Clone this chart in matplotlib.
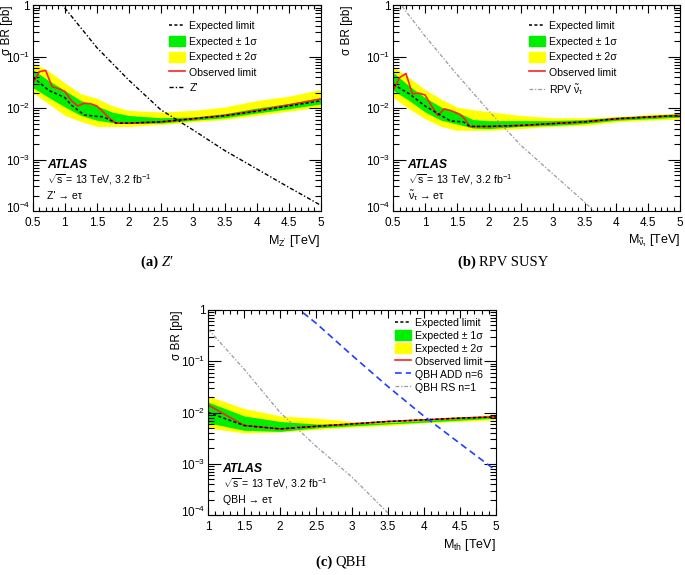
import matplotlib
matplotlib.use("Agg")
import matplotlib.pyplot as plt
import matplotlib.transforms as mtransforms
import numpy as np
from matplotlib.lines import Line2D
from matplotlib.patches import Patch
from matplotlib.ticker import FixedLocator, MultipleLocator, LogLocator, NullFormatter

plt.rcParams['font.family'] = ['Liberation Sans', 'DejaVu Sans']
plt.rcParams['mathtext.fontset'] = 'custom'
plt.rcParams['mathtext.rm'] = 'Liberation Sans'
plt.rcParams['mathtext.it'] = 'Liberation Sans:italic'
plt.rcParams['mathtext.bf'] = 'Liberation Sans:bold'
plt.rcParams['mathtext.default'] = 'regular'

# ---- (a) Z' ----
za_band_m = [0.5, 0.75, 1.0, 1.25, 1.5, 1.75, 2.0, 2.5, 3.0, 3.5, 4.0, 4.5, 5.0]
za_y2_hi = [0.076, 0.052, 0.031, 0.019, 0.0155, 0.011, 0.009, 0.0084, 0.009, 0.0105, 0.014, 0.017, 0.023]
za_y2_lo = [0.020, 0.012, 0.0072, 0.0055, 0.0044, 0.0044, 0.0044, 0.0048, 0.0054, 0.006, 0.0072, 0.0087, 0.0105]
za_g1_hi = [0.056, 0.034, 0.022, 0.014, 0.011, 0.0083, 0.0072, 0.0065, 0.0067, 0.0078, 0.010, 0.0123, 0.016]
za_g1_lo = [0.025, 0.016, 0.0105, 0.0072, 0.0058, 0.0052, 0.005, 0.0051, 0.0058, 0.0065, 0.008, 0.0097, 0.012]
za_exp_m = [0.5, 0.75, 1.0, 1.1, 1.3, 1.5, 1.6, 1.75, 1.8, 2.0, 2.5, 3.0, 3.5, 4.0, 4.5, 5.0]
za_exp = [0.040, 0.022, 0.016, 0.0115, 0.0074, 0.0069, 0.0068, 0.0055, 0.0051, 0.0051, 0.0054, 0.0062, 0.0071, 0.0087, 0.011, 0.0138]
za_obs_m = [0.5, 0.6, 0.7, 0.8, 0.9, 1.0, 1.1, 1.2, 1.3, 1.4, 1.5, 1.6, 1.7, 1.8, 2.0, 2.5, 3.0, 3.5, 4.0, 4.5, 5.0]
za_obs = [0.030, 0.051, 0.054, 0.026, 0.024, 0.021, 0.014, 0.011, 0.0124, 0.0122, 0.011, 0.0084, 0.0063, 0.0051,
          0.0051, 0.0054, 0.0062, 0.0072, 0.009, 0.0115, 0.015]
za_th_m = [0.9, 1.0, 1.5, 2.0, 2.5, 3.0, 3.5, 4.0, 4.5, 5.0]
za_th = [1.25, 0.88, 0.15, 0.035, 0.0093, 0.0038, 0.0015, 6.6e-4, 2.9e-4, 1.3e-4]

# ---- (b) RPV SUSY ----
rb_band_m = [0.5, 0.75, 1.0, 1.25, 1.5, 1.75, 2.0, 2.5, 3.0, 3.5, 4.0, 4.5, 5.0]
rb_y2_hi = [0.065, 0.039, 0.023, 0.015, 0.0105, 0.0093, 0.0085, 0.0072, 0.0065, 0.0065, 0.0068, 0.0075, 0.0081]
rb_y2_lo = [0.016, 0.0097, 0.0062, 0.0044, 0.0037, 0.0037, 0.0037, 0.004, 0.0044, 0.0046, 0.0054, 0.0058, 0.0061]
rb_g1_hi = [0.049, 0.027, 0.016, 0.0105, 0.0084, 0.006, 0.0057, 0.0057, 0.0057, 0.006, 0.0067, 0.0072, 0.0078]
rb_g1_lo = [0.022, 0.014, 0.0084, 0.0058, 0.0049, 0.0041, 0.004, 0.0044, 0.0046, 0.005, 0.0058, 0.0062, 0.0067]
rb_exp_m = [0.5, 0.75, 1.0, 1.25, 1.4, 1.6, 1.7, 2.0, 2.5, 3.0, 3.5, 4.0, 4.5, 5.0]
rb_exp = [0.029, 0.019, 0.011, 0.0072, 0.0056, 0.0054, 0.0044, 0.0044, 0.0046, 0.005, 0.0054, 0.0062, 0.0067, 0.0072]
rb_obs_m = [0.5, 0.6, 0.7, 0.8, 0.9, 1.0, 1.1, 1.2, 1.3, 1.4, 1.55, 1.62, 1.7, 2.0, 2.5, 3.0, 3.5, 4.0, 4.5, 5.0]
rb_obs = [0.022, 0.039, 0.047, 0.019, 0.0195, 0.018, 0.011, 0.0072, 0.0096, 0.009, 0.0075, 0.0062, 0.0044,
          0.0044, 0.0046, 0.005, 0.0054, 0.0062, 0.0067, 0.0072]
rb_th_m = [0.55, 0.6, 1.0, 1.5, 2.0, 2.5, 3.0, 3.5, 3.7]
rb_th = [1.4, 1.1, 0.25, 0.045, 0.0088, 0.0019, 5.3e-4, 1.5e-4, 8.5e-5]

# ---- (c) QBH ----
qc_band_m = [1.0, 1.5, 2.0, 2.5, 3.0, 3.5, 4.0, 4.5, 5.0]
qc_y2_hi = [0.021, 0.012, 0.0086, 0.0078, 0.0067, 0.0067, 0.0072, 0.008, 0.0094]
qc_y2_lo = [0.005, 0.004, 0.0042, 0.0047, 0.0052, 0.0056, 0.0063, 0.0067, 0.0072]
qc_g1_hi = [0.016, 0.0086, 0.0067, 0.006, 0.006, 0.0064, 0.007, 0.0077, 0.0086]
qc_g1_lo = [0.0063, 0.0045, 0.0043, 0.005, 0.0055, 0.006, 0.0065, 0.0071, 0.0078]
qc_exp = [0.010, 0.0056, 0.0048, 0.0054, 0.006, 0.0067, 0.0072, 0.0078, 0.0082]
qc_obs = [0.014, 0.0056, 0.0048, 0.0054, 0.006, 0.0067, 0.0072, 0.0078, 0.0083]
qc_add_m = [2.2, 2.5, 3.0, 3.5, 4.0, 4.5, 5.0]
qc_add = [1.2, 0.55, 0.13, 0.032, 0.0085, 0.0025, 7.4e-4]
qc_rs_m = [1.0, 1.5, 2.0, 2.5, 3.0, 3.5]
qc_rs = [0.42, 0.07, 0.01, 0.0022, 5.5e-4, 1.1e-4]

ytick_vals = [1e-4, 1e-3, 1e-2, 1e-1, 1]
ytick_labels = ['$10^{-4}$', '$10^{-3}$', '$10^{-2}$', '$10^{-1}$', '1']

GREEN = '#00ee00'
YELLOW = '#ffff00'
EXP_STYLE = dict(color='black', lw=1.1, ls=(0, (2.0, 1.5)))
OBS_STYLE = dict(color='#ff2020', lw=1.2)


def panel(ax, band_m, y2lo, y2hi, g1lo, g1hi, exp_m, exp, obs_m, obs,
          xmin, xticks, xlabel, process, theories, leg_anchor, leg_space, ylab_x):
    ax.fill_between(band_m, y2lo, y2hi, color=YELLOW, lw=0)
    ax.fill_between(band_m, g1lo, g1hi, color=GREEN, lw=0)
    ax.plot(obs_m, obs, **OBS_STYLE)
    ax.plot(exp_m, exp, **EXP_STYLE)
    handles = [Line2D([], [], **EXP_STYLE), Patch(color=GREEN), Patch(color=YELLOW),
               Line2D([], [], **OBS_STYLE)]
    labels = ['Expected limit', 'Expected \u00b1 1\u03c3', 'Expected \u00b1 2\u03c3', 'Observed limit']
    for m, v, style, lab in theories:
        ax.plot(m, v, **style)
        handles.append(Line2D([], [], **style))
        labels.append(lab)

    ax.set_yscale('log')
    ax.set_xlim(xmin, 5)
    ax.set_ylim(1e-4, 1)
    ax.yaxis.set_major_locator(FixedLocator(ytick_vals))
    ax.set_yticklabels(ytick_labels)
    ax.yaxis.set_minor_locator(LogLocator(base=10, subs=np.arange(2, 10)))
    ax.yaxis.set_minor_formatter(NullFormatter())
    ax.xaxis.set_major_locator(FixedLocator(xticks))
    ax.set_xticklabels(['%g' % t for t in xticks])
    ax.xaxis.set_minor_locator(MultipleLocator(0.1))
    ax.tick_params(which='both', direction='in', top=True, right=True, labelsize=8.5, width=0.8)
    ax.tick_params(axis='y', which='major', length=9, pad=2)
    ax.tick_params(axis='y', which='minor', length=4.5)
    ax.tick_params(axis='x', which='major', length=6, pad=4)
    ax.tick_params(axis='x', which='minor', length=3)
    for s in ax.spines.values():
        s.set_linewidth(0.8)
    # lift the bottom y label a little so it clears the first x label
    lowest = ax.get_yticklabels()[0]
    lowest.set_transform(lowest.get_transform() +
                         mtransforms.ScaledTranslation(0, 3 / 72, ax.figure.dpi_scale_trans))

    ax.set_ylabel('\u03c3 BR [pb]', fontsize=8.5, loc='top')
    ax.yaxis.label.set_va('center')
    ax.yaxis.set_label_coords(ylab_x, 1.0)
    ax.set_xlabel(xlabel, fontsize=9, loc='right', labelpad=3)

    ax.legend(handles, labels, loc='upper left', bbox_to_anchor=leg_anchor,
              frameon=False, fontsize=7.6, handlelength=1.5, handleheight=1.1,
              labelspacing=leg_space, handletextpad=0.4, borderaxespad=0)

    ax.text(0.05, 0.21, 'ATLAS', transform=ax.transAxes, fontsize=8.8,
            fontweight='bold', fontstyle='italic')
    ax.text(0.05, 0.133, '$\\sqrt{s}$ = 13 TeV, 3.2 fb$^{-1}$', transform=ax.transAxes, fontsize=7.6)
    ax.text(0.05, 0.058, process, transform=ax.transAxes, fontsize=7.6)


fig = plt.figure(figsize=(6.85, 5.75), dpi=100)

ax_a = fig.add_axes([0.048, 0.633, 0.420, 0.358])
panel(ax_a, za_band_m, za_y2_lo, za_y2_hi, za_g1_lo, za_g1_hi, za_exp_m, za_exp, za_obs_m, za_obs,
      0.5, [0.5, 1, 1.5, 2, 2.5, 3, 3.5, 4, 4.5, 5], "M$_{Z'}$ [TeV]", "Z' \u2192 e\u03c4",
      [(za_th_m, za_th, dict(color='black', lw=1.0, ls=(0, (3, 1.5, 1, 1.5))), "Z'")],
      (0.46, 0.945), 0.45, -0.09)

ax_b = fig.add_axes([0.574, 0.633, 0.419, 0.358])
panel(ax_b, rb_band_m, rb_y2_lo, rb_y2_hi, rb_g1_lo, rb_g1_hi, rb_exp_m, rb_exp, rb_obs_m, rb_obs,
      0.5, [0.5, 1, 1.5, 2, 2.5, 3, 3.5, 4, 4.5, 5], '$M_{\\tilde{\\nu}_{\\tau}}$ [TeV]',
      '$\\tilde{\\nu}_{\\tau}$ \u2192 e\u03c4',
      [(rb_th_m, rb_th, dict(color='#999999', lw=0.9, ls=(0, (3, 1.5, 1, 1.5))), 'RPV $\\tilde{\\nu}_{\\tau}$')],
      (0.46, 0.945), 0.45, -0.16)

ax_c = fig.add_axes([0.304, 0.104, 0.420, 0.357])
panel(ax_c, qc_band_m, qc_y2_lo, qc_y2_hi, qc_g1_lo, qc_g1_hi, qc_band_m, qc_exp, qc_band_m, qc_obs,
      1.0, [1, 1.5, 2, 2.5, 3, 3.5, 4, 4.5, 5], 'M$_{th}$ [TeV]', 'QBH \u2192 e\u03c4',
      [(qc_add_m, qc_add, dict(color='#1f3fff', lw=1.2, ls=(0, (4, 2.5))), 'QBH ADD n=6'),
       (qc_rs_m, qc_rs, dict(color='#999999', lw=0.9, ls=(0, (3, 1.5, 1, 1.5))), 'QBH RS n=1')],
      (0.635, 0.985), 0.22, -0.11)

serif = ['Liberation Serif', 'DejaVu Serif']
fig.text(0.236, 1 - 262 / 575, '(a) ', family=serif, fontsize=10.5, fontweight='bold', ha='right', va='center')
fig.text(0.236, 1 - 262 / 575, "Z\u2032", family=serif, fontsize=10.5, fontstyle='italic', ha='left', va='center')
fig.text(0.700, 1 - 262 / 575, '(b) ', family=serif, fontsize=10.5, fontweight='bold', ha='right', va='center')
fig.text(0.700, 1 - 262 / 575, 'RPV SUSY', family=serif, fontsize=10.5, ha='left', va='center')
fig.text(0.490, 1 - 562 / 575, '(c) ', family=serif, fontsize=10.5, fontweight='bold', ha='right', va='center')
fig.text(0.490, 1 - 562 / 575, 'QBH', family=serif, fontsize=10.5, ha='left', va='center')

fig.savefig('out.png', dpi=100)
